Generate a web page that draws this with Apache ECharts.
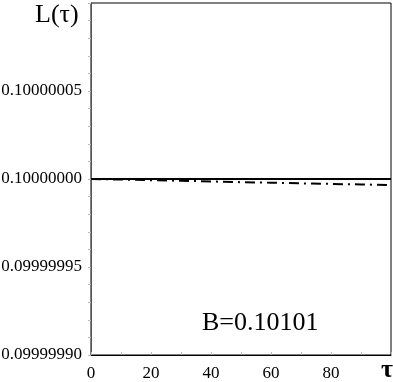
<!DOCTYPE html>
<html lang="en">
<head>
  <meta charset="UTF-8">
  <title>L(tau), B=0.10101</title>
</head>
<body>
<div id="chart"></div>
<style>
  html, body {
    margin: 0;
    width: 100%;
    height: 100%;
    background: #fff;
  }
  #chart {
    width: 393px;
    height: 382px;
  }
</style>
<script src="https://cdn.jsdelivr.net/npm/echarts@6/dist/echarts.min.js"></script>
<script>
  // tau values and the two curves
  const tau = [0, 10, 20, 30, 40, 50, 60, 70, 80, 90, 100];
  const solidL = [0.1, 0.1, 0.1, 0.1, 0.1, 0.1, 0.1, 0.1, 0.1, 0.1, 0.1];
  const dashDotL = [0.1, 0.0999999997, 0.0999999993, 0.099999999, 0.0999999986,
    0.0999999982, 0.0999999979, 0.0999999975, 0.0999999972, 0.0999999969, 0.0999999966];

  const serif = 'Liberation Serif';
  const chart = echarts.init(document.getElementById('chart'));

  chart.setOption({
    animation: false,
    backgroundColor: '#fff',
    grid: {
      left: 91,
      right: 2,
      top: 3,
      bottom: 27,
      outerBoundsMode: 'none',
      containLabel: false,
      show: true,
      borderColor: '#000',
      borderWidth: 1
    },
    xAxis: {
      type: 'value',
      min: 0,
      max: 100,
      interval: 20,
      axisLine: { lineStyle: { color: '#000', width: 1 } },
      axisTick: { inside: true, length: 3, lineStyle: { color: '#bbb' } },
      minorTick: { show: true, splitNumber: 2, length: 3, lineStyle: { color: '#bbb' } },
      splitLine: { show: false },
      axisLabel: {
        showMaxLabel: false,
        margin: 10,
        color: '#000',
        fontFamily: serif,
        fontSize: 17
      }
    },
    yAxis: {
      type: 'value',
      min: 0.0999999,
      max: 0.1000001,
      interval: 0.00000005,
      axisLine: { show: true, lineStyle: { color: '#555', width: 1 } },
      axisTick: { length: 3, lineStyle: { color: '#bbb' } },
      minorTick: { show: true, splitNumber: 5, length: 3, lineStyle: { color: '#bbb' } },
      splitLine: { show: false },
      axisLabel: {
        showMaxLabel: false,
        margin: 9,
        color: '#000',
        fontFamily: serif,
        fontSize: 17,
        formatter: v => v.toFixed(8)
      }
    },
    series: [{
      type: 'line',
      data: tau.map((t, i) => [t, solidL[i]]),
      showSymbol: false,
      lineStyle: { color: '#000', width: 2 }
    }, {
      type: 'line',
      data: tau.map((t, i) => [t, dashDotL[i]]),
      showSymbol: false,
      lineStyle: { color: '#000', width: 2, type: [10, 5, 2, 5] }
    }],
    graphic: [{
      type: 'text',
      left: 35,
      top: 2,
      style: { text: 'L(τ)', font: '26px "Liberation Serif"', fill: '#000' }
    }, {
      type: 'text',
      left: 381,
      top: 357,
      style: { text: 'τ', font: 'bold 26px "Liberation Serif"', fill: '#000' }
    }, {
      type: 'text',
      left: 202,
      top: 310,
      style: { text: 'B=0.10101', font: '26px "Liberation Serif"', fill: '#000' }
    }]
  });
</script>
</body>
</html>
